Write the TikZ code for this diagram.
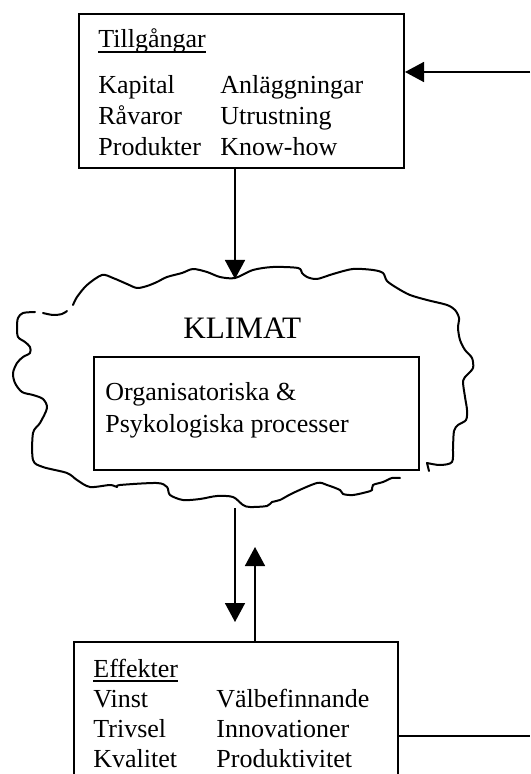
\documentclass[tikz,border=0pt]{standalone}
\usepackage{fontspec}
\setmainfont{Liberation Serif}
\usetikzlibrary{arrows.meta}
\begin{document}
\begin{tikzpicture}[x=0.5pt,y=-0.5pt,
  box/.style={draw, line width=1pt, inner sep=0pt, anchor=north west},
  txt/.style={inner sep=0pt, anchor=base west, font=\fontsize{13}{15.5}\selectfont},
  big/.style={inner sep=0pt, anchor=base west, font=\fontsize{15.6}{18}\selectfont},
  arr/.style={line width=0.8pt, -{Triangle[length=9.5pt,width=10pt]}},
  plain/.style={line width=0.8pt},
  uline/.style={line width=0.7pt},
  cloud/.style={line width=1pt, line join=round, line cap=round}]
\useasboundingbox (0,0) rectangle (530,774);
\clip (0,0) rectangle (530,774);

% boxes
\node[box, minimum width=162.5pt, minimum height=77pt] (tb) at (78,13) {};
\node[box, minimum width=162.5pt, minimum height=56.5pt] (ib) at (93,356) {};
\node[box, minimum width=162pt, minimum height=90pt] (bb) at (73,641) {};

% top box text
\node[txt] (h1) at (98,48) {Tillgångar};
\draw[uline] ([yshift=-2pt]h1.base west) -- ([yshift=-2pt]h1.base east);
\node[txt] (a1) at (98,94) {Kapital};
\node[txt] (a2) at (98,125) {Råvaror};
\node[txt] (a3) at (98,156) {Produkter};
\node[txt] (b1) at (220,94) {Anläggningar};
\node[txt] (b2) at (220,125) {Utrustning};
\node[txt] (b3) at (220,156) {Know-how};

% cloud
\draw[cloud] plot[smooth, tension=0.5] coordinates {
 (35,312) (23,313) (18,318) (17,327) (18,337) (25,342) (30,347) (30,353)
 (23,357) (17,363) (13,373) (15,383) (22,392) (33,395) (43,399) (47,408)
 (40,423) (33,433) (33,460) (43,467) (67,473) (77,480) (90,487) (110,485)
 (117,487) (120,485) (157,483) (167,487) (170,495) (183,500) (200,499)
 (217,496) (233,497) (243,505) (250,507) (267,506) (272,502) (280,500)
 (293,493) (317,483) (327,485) (340,490) (343,494) (353,495) (367,492)
 (372,490) (373,485) (383,482) (392,478) (400,478)};
\draw[cloud] plot[smooth, tension=0.5] coordinates {(43,313) (53,315) (62,314) (67,311)};
\draw[cloud] plot[smooth, tension=0.5] coordinates {
 (73,305) (77,297) (87,285) (102,275) (113,278) (127,284) (137,288) (147,286)
 (157,282) (167,277) (182,273) (193,269) (207,272) (220,277) (235,278)
 (253,270) (273,267) (298,268) (302,273) (307,277) (317,279) (333,274)
 (353,269) (373,270) (383,273) (387,281) (397,288) (410,295) (427,300)
 (447,305) (455,310) (459,318) (458,328) (460,340) (465,350) (472,358)
 (473,368) (467,375) (463,381) (465,397) (467,410) (466,420) (458,425)
 (454,431) (453,447) (452,462) (440,465) (427,463)} -- (429,471);

\node[big] (kl) at (183,338) {KLIMAT};
\node[txt] (p1) at (105,400) {Organisatoriska \&};
\node[txt] (p2) at (105,432) {Psykologiska processer};

% bottom box text
\node[txt] (h2) at (93,677) {Effekter};
\draw[uline] ([yshift=-2pt]h2.base west) -- ([yshift=-2pt]h2.base east);
\node[txt] (c1) at (93,707) {Vinst};
\node[txt] (c2) at (93,737) {Trivsel};
\node[txt] (c3) at (93,767) {Kvalitet};
\node[txt] (d1) at (216,707) {Välbefinnande};
\node[txt] (d2) at (216,737) {Innovationer};
\node[txt] (d3) at (216,767) {Produktivitet};

% connector points
\coordinate (cloudN) at (235,279);
\coordinate (cloudS) at (235,508);
\coordinate (cloudS2) at (255,507);
\coordinate (eTop) at (530,72);
\coordinate (eBot) at (530,736);

% connectors
\draw[arr] (eTop) -- (tb.east |- eTop);
\draw[arr] (tb.south -| cloudN) -- (cloudN);
\draw[arr, shorten >=9.5pt] (cloudS) -- (cloudS |- bb.north);
\draw[arr, shorten >=20pt] (bb.north -| cloudS2) -- (cloudS2);
\draw[plain] (bb.east |- eBot) -- (eBot);
\end{tikzpicture}
\end{document}
